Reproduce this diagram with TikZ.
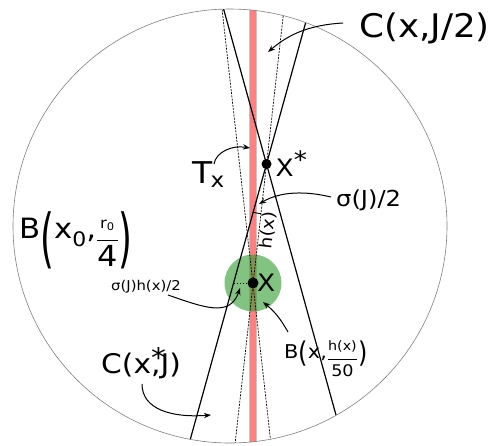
\RequirePackage{fix-cm}
\documentclass[tikz,border=0pt]{standalone}
\usepackage{amsmath}
\usepackage{fontspec}
\setmainfont{DejaVu Sans}[FakeStretch=1.1]
\usetikzlibrary{arrows.meta, positioning, calc}
\definecolor{stripRed}{HTML}{FF8080}
\definecolor{ballGreen}{HTML}{2F9B2F}
\definecolor{rimGray}{HTML}{808080}
\newcommand{\tallparen}[3]{\raisebox{#3}{\scalebox{1.15}[#2]{#1}}}
\newcommand{\lowfrac}[3]{\raisebox{#1}{$\dfrac{\text{#2}}{\text{#3}}$}}
\tikzset{
  arrowK/.style={-{Stealth[length=2.5mm]}, black, line width=1pt},
  coneSolid/.style={black, line width=1.2pt},
  coneDash/.style={black, line width=0.7pt, dash pattern=on 2pt off 1.2pt},
  lbl/.style={anchor=base west, inner sep=0pt},
  lblXL/.style={lbl, font=\fontsize{32.5}{38}\selectfont},
  lblL/.style={lbl, font=\fontsize{27}{32}\selectfont},
  lblM/.style={lbl, font=\fontsize{24}{27}\selectfont},
  lblS/.style={lbl, font=\fontsize{22}{24}\selectfont},
  lblXS/.style={lbl, font=\fontsize{13.5}{16}\selectfont},
}
\begin{document}
\begin{tikzpicture}[x=1pt, y=-1pt]
    \useasboundingbox (0,0) rectangle (492,445);
    \coordinate (o) at (230,226);
    \coordinate (xs) at (266.5,164);
    \coordinate (xp) at (253,283);
    \coordinate (foot) at (233.5,283);
    \begin{scope}
      \clip (o) circle (217);
      \fill[stripRed, draw=gray!45, line width=0.5pt] (249.5,0) rectangle (256.5,445);
      \fill[ballGreen, fill opacity=0.6] (xp) circle (28.5);
      \draw[coneDash] ($(xp)+(-32,-283)$) -- ($(xp)+(19,170)$);
      \draw[coneDash] ($(xp)+(32,-283)$) -- ($(xp)+(-19,170)$);
      \draw[coneSolid] ($(xs)+(-44.3,-160)$) -- ($(xs)+(80,289)$);
      \draw[coneSolid] ($(xs)+(44.3,-160)$) -- ($(xs)+(-80,289)$);
    \end{scope}
    \draw[rimGray, line width=0.6pt] (o) circle (217);
    \draw[line width=0.8pt, dash pattern=on 1.5pt off 1.5pt] (xp) -- (foot);
    \draw[line width=0.9pt] (xs) ++(96.5:50) arc (96.5:106:50);
    \fill (xs) circle (5);
    \fill (xp) circle (5.5);

    \node[lblXL] (lCxJ) at (359,37) {C(x,J/2)};
    \node[lbl, font=\fontsize{30}{34}\selectfont] (lTx) at (192,183) {$\mathrm{T}_{\mathrm{x}}$};
    \node[lblM, right=9pt of xs] (lXs) {X\raisebox{0.33em}{*}};
    \node[lblM, right=4pt of xp] (lX) {X};
    \node[lblS] (lSig) at (336,206) {σ(J)/2};
    \node[lbl, anchor=center, rotate=83.5, font=\fontsize{17}{20}\selectfont] (lH) at (268,230) {h(x)};
    \node[lbl, font=\fontsize{28}{30}\selectfont] (lBig) at (19,238)
      {B\tallparen{(}{2.3}{-0.8em}x\raisebox{-0.3em}{\fontsize{20}{20}\selectfont 0},%
       \lowfrac{-0.33em}{\fontsize{15}{15}\selectfont r\textsubscript{0}}{\fontsize{29}{29}\selectfont 4}%
       \tallparen{)}{2.3}{-0.8em}};
    \node[lblXS] (lSigH) at (111,290) {σ(J)h(x)/2};
    \node[lbl, font=\fontsize{19}{24}\selectfont] (lBsm) at (284,358)
      {B\tallparen{(}{1.5}{-0.25em}x,%
       \lowfrac{-0.3em}{\fontsize{13}{13}\selectfont h(x)}{\fontsize{16}{16}\selectfont 50}%
       \tallparen{)}{1.5}{-0.25em}};
    \node[lblL] (lCxsJ) at (101,373) {C(x\rlap{\raisebox{0.2em}{*}},J)};

    \coordinate (tCxJ) at (268,52);
    \coordinate (tTx) at (250,148);
    \coordinate (tSig) at (259,204);
    \coordinate (tSigH) at (240,288);
    \coordinate (tBsm) at (263,302);
    \coordinate (tCxsJ) at (211,415);
    \draw[arrowK] ($(lCxJ.base west)+(-16,-14)$) .. controls +(-35,2) and +(20,-17) .. (tCxJ);
    \draw[arrowK] ($(lTx.base west)+(22,-19)$) .. controls +(2,-12) and +(-18,-3) .. (tTx);
    \draw[arrowK] ($(lSig.base west)+(-5,-9)$) .. controls +(-25,-6) and +(22,-13) .. (tSig);
    \draw[arrowK] ($(lSigH.base west)+(57,5)$) .. controls +(35,12) and +(-10,30) .. (tSigH);
    \draw[arrowK] ($(lBsm.base west)+(4,-26)$) .. controls +(-8,-14) and +(12,10) .. (tBsm);
    \draw[arrowK] ($(lCxsJ.base west)+(41,11)$) .. controls +(0,25) and +(-40,3) .. (tCxsJ);
\end{tikzpicture}
\end{document}
